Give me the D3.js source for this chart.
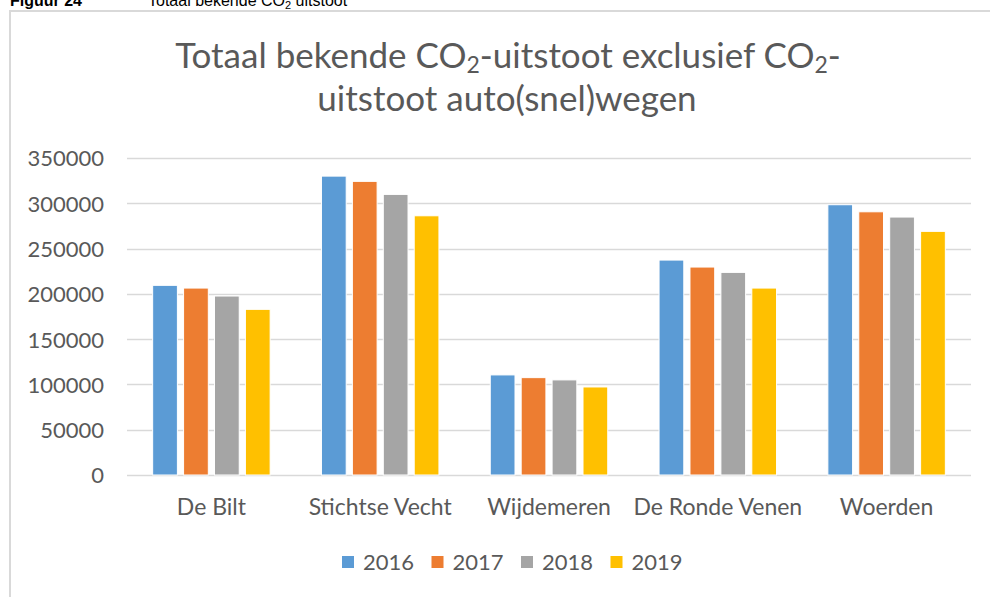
<!DOCTYPE html>
<html>
<head>
<meta charset="utf-8">
<script src="https://cdn.jsdelivr.net/npm/d3@7"></script>
<style>
  body { margin: 0; background: #fff; }
  svg { display: block; }
</style>
</head>
<body>
<div id="chart"></div>
<script>
const width = 990;
const height = 597;

// data
const categories = ['De Bilt', 'Stichtse Vecht', 'Wijdemeren', 'De Ronde Venen', 'Woerden'];
const years = ['2016', '2017', '2018', '2019'];
const values2016 = [209400, 330000, 110500, 237300, 298400];
const values2017 = [206400, 324200, 107500, 229600, 290600];
const values2018 = [197600, 309800, 105000, 223700, 284800];
const values2019 = [182900, 286200, 97200, 206400, 269000];
const yTicks = [0, 50000, 100000, 150000, 200000, 250000, 300000, 350000];
const colors = ['#5b9bd5', '#ed7d31', '#a5a5a5', '#ffc000'];

const series = [values2016, values2017, values2018, values2019];
const textColor = '#595959';
const font = 'Lato, "Open Sans", sans-serif';

const svg = d3.select('#chart').append('svg')
    .attr('width', width)
    .attr('height', height);

// document caption, cut off at the top like in the source page
const cap = svg.append('text')
    .attr('x', 10)
    .attr('y', 6)
    .attr('font-family', 'Liberation Sans, Arial, sans-serif')
    .attr('font-size', 16)
    .attr('fill', '#000');
cap.append('tspan').attr('font-weight', 'bold').text('Figuur 24');
const capRest = svg.append('text')
    .attr('x', 148)
    .attr('y', 6)
    .attr('font-family', 'Liberation Sans, Arial, sans-serif')
    .attr('font-size', 16)
    .attr('fill', '#000');
capRest.append('tspan').text('Totaal bekende CO');
capRest.append('tspan').attr('font-size', 11).attr('dy', 3).text('2');
capRest.append('tspan').attr('dy', -3).text(' uitstoot');

// chart frame
svg.append('rect')
    .attr('x', 10)
    .attr('y', 11)
    .attr('width', 1000)
    .attr('height', 600)
    .attr('fill', 'none')
    .attr('stroke', '#d9d9d9')
    .attr('stroke-width', 2);

// title
const title = svg.append('g')
    .attr('font-family', font)
    .attr('font-size', 35)
    .attr('fill', textColor)
    .attr('text-anchor', 'middle');
const t1 = title.append('text').attr('x', 508).attr('y', 68);
t1.append('tspan').text('Totaal bekende CO');
t1.append('tspan').attr('font-size', 23).attr('dy', 5).text('2');
t1.append('tspan').attr('dy', -5).text('-uitstoot exclusief CO');
t1.append('tspan').attr('font-size', 23).attr('dy', 5).text('2');
t1.append('tspan').attr('dy', -5).text('-');
title.append('text').attr('x', 507).attr('y', 111).text('uitstoot auto(snel)wegen');

// scales
const x0 = d3.scaleBand()
    .domain(categories)
    .range([127, 971]);

const x1 = d3.scaleBand()
    .domain(years)
    .range([0, x0.bandwidth()])
    .paddingInner(0.2)
    .paddingOuter(0.83);

const y = d3.scaleLinear()
    .domain([0, 350000])
    .range([475, 158]);

// gridlines
svg.append('g')
    .selectAll('line')
    .data(yTicks)
    .join('line')
    .attr('x1', 127)
    .attr('x2', 971)
    .attr('y1', d => Math.round(y(d)) + 0.5)
    .attr('y2', d => Math.round(y(d)) + 0.5)
    .attr('stroke', '#d9d9d9')
    .attr('stroke-width', 1.5);

// y axis labels
const yAxis = svg.append('g')
    .attr('transform', 'translate(104,0)')
    .call(d3.axisLeft(y).tickValues(yTicks).tickSize(0).tickPadding(0).tickFormat(d3.format('d')));
yAxis.select('.domain').remove();
yAxis.selectAll('text')
    .attr('font-family', font)
    .attr('font-size', 22)
    .attr('fill', textColor)
    .attr('dy', '0.36em');

// bars
const groups = svg.append('g')
    .selectAll('g')
    .data(categories)
    .join('g')
    .attr('transform', d => `translate(${x0(d)},0)`);

groups.selectAll('rect')
    .data((d, i) => years.map((yr, j) => ({year: yr, value: series[j][i], color: colors[j]})))
    .join('rect')
    .attr('x', d => x1(d.year))
    .attr('width', x1.bandwidth())
    .attr('y', d => y(d.value))
    .attr('height', d => y(0) - y(d.value))
    .attr('fill', d => d.color)
    .attr('stroke', '#fff')
    .attr('stroke-width', 1);

// category labels
const xAxis = svg.append('g')
    .attr('transform', 'translate(0,475)')
    .call(d3.axisBottom(x0).tickSize(0).tickPadding(0));
xAxis.select('.domain').remove();
xAxis.selectAll('text')
    .attr('font-family', font)
    .attr('font-size', 23)
    .attr('fill', textColor)
    .attr('dy', 40);

// legend
const legend = svg.append('g')
    .selectAll('g')
    .data(years)
    .join('g')
    .attr('transform', (d, i) => `translate(${342 + i * 89.5},556)`);
legend.append('rect')
    .attr('width', 12)
    .attr('height', 12)
    .attr('fill', (d, i) => colors[i]);
legend.append('text')
    .attr('x', 21)
    .attr('y', 14)
    .attr('font-family', font)
    .attr('font-size', 22)
    .attr('fill', textColor)
    .text(d => d);
</script>
</body>
</html>
